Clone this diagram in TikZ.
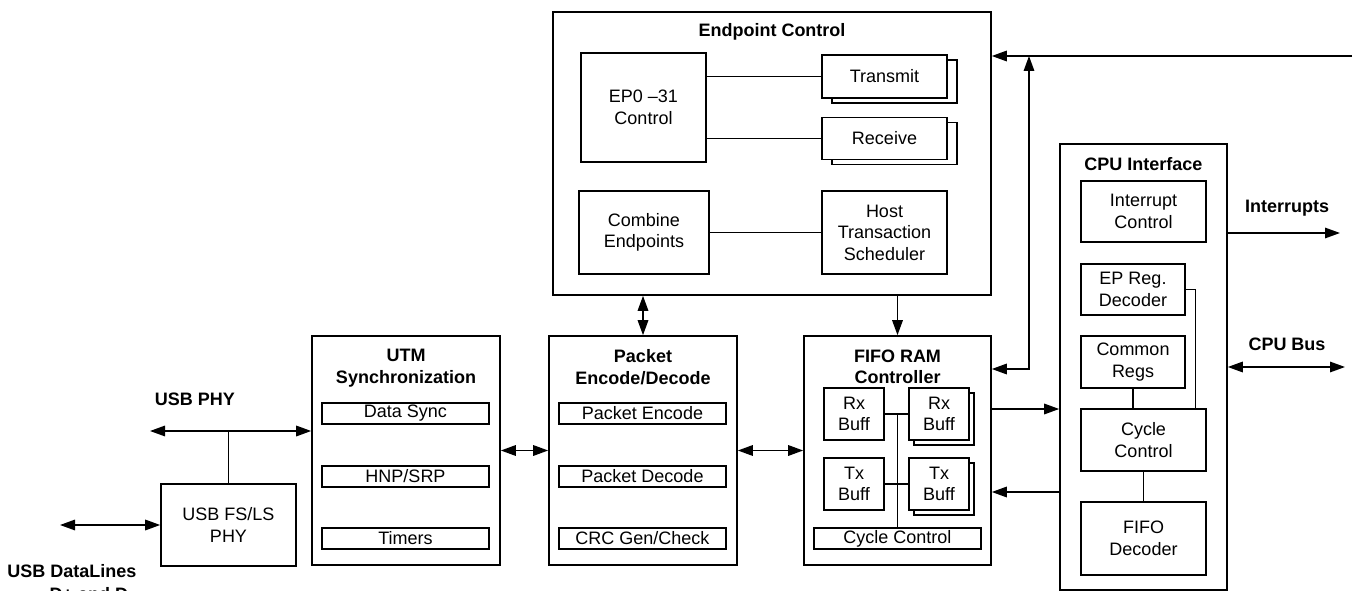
\documentclass[tikz,border=0pt]{standalone}
\usepackage{fontspec}
\setmainfont{Liberation Sans}
\usetikzlibrary{arrows.meta,shadows}

\begin{document}
\begin{tikzpicture}[
    x=1pt, y=-1pt, line width=1.6pt, >={Triangle[length=15pt,width=10.5pt]},
    font=\fontsize{18}{21.5}\selectfont,
    blk/.style args={#1/#2}{draw, fill=white, inner sep=0pt, align=center,
                  minimum width=#1pt, minimum height=#2pt},
    ttl/.style={font=\fontsize{18}{21.5}\selectfont\bfseries, align=center},
    stk/.style args={#1/#2}{copy shadow={shadow xshift=#1pt, shadow yshift=-#2pt,
                  draw=black, fill=white, line width=1.6pt}}]
  \useasboundingbox (0,0) rectangle (1353,591);
  %% Endpoint control block
  \node[blk=438/283] (epc) at (772,153.5) {};
  \node[ttl] (epct) at (772,32) {Endpoint Control};
  \node[blk=125/109] (ep)   at (643.5,107.5) {EP0 --31\\Control};
  \node[blk=125/43, stk=10/5] (tx) at (884.5,76.5) {Transmit};
  \node[blk=125/42, stk=10/5] (rx) at (884.5,138.5) {Receive};
  \node[blk=130/83] (comb) at (644,232.5) {Combine\\Endpoints};
  \node[blk=125/83] (host) at (884.5,232.5) {Host\\Transaction\\Scheduler};
  %% UTM
  \node[blk=188/229] (utm) at (406,450.5) {};
  \node[ttl] (utmt) at (406,368) {UTM\\Synchronization};
  \node[blk=167/21] (dsync) at (405.5,413.5) {Data Sync};
  \node[blk=167/21] (hnp)   at (405.5,476.5) {HNP/SRP};
  \node[blk=167/21] (tmr)   at (405.5,538.5) {Timers};
  %% Packet encode/decode
  \node[blk=188/229] (pkt) at (643,450.5) {};
  \node[ttl] (pktt) at (643,367) {Packet\\Encode/Decode};
  \node[blk=167/21] (penc) at (642.5,413.5) {Packet Encode};
  \node[blk=167/21] (pdec) at (642.5,476.5) {Packet Decode};
  \node[blk=167/21] (crc)  at (642.5,538.5) {CRC Gen/Check};
  %% FIFO RAM controller
  \node[blk=187/229] (fifo) at (897.5,450.5) {};
  \node[ttl] (fifot) at (897.5,367) {FIFO RAM\\Controller};
  \node[blk=60/52] (rxl) at (854,414) {Rx\\Buff};
  \node[blk=60/52, stk=5/5] (rxr) at (939,414) {Rx\\Buff};
  \node[blk=60/52] (txl) at (854,484) {Tx\\Buff};
  \node[blk=60/52, stk=5/5] (txr) at (939,484) {Tx\\Buff};
  \node[blk=167/21] (fcyc) at (897.5,538.5) {Cycle Control};
  %% CPU interface
  \node[blk=167/446] (cpu) at (1143.5,367) {};
  \node[ttl] (cput) at (1143.5,164) {CPU Interface};
  \node[blk=125/61] (irq)   at (1143.5,211.5) {Interrupt\\Control};
  \node[blk=104/51] (epreg) at (1133,289.5) {EP Reg.\\Decoder};
  \node[blk=104/52] (creg)  at (1133,362) {Common\\Regs};
  \node[blk=125/62] (cyc)   at (1143.5,440) {Cycle\\Control};
  \node[blk=125/73] (fdec)  at (1143.5,538.5) {FIFO\\Decoder};
  %% USB PHY
  \node[blk=135/82] (phy) at (228.5,525) {USB FS/LS\\PHY};
  %% Outside labels
  \node[ttl] (lphy) at (195,399) {USB PHY};
  \node[ttl] (ldl)  at (72,571) {USB DataLines};
  \node[ttl, anchor=base] (ldd) at (94,600) {D+ and D--};
  \node[ttl] (lirq) at (1287,208) {Interrupts};
  \node[ttl] (lbus) at (1287,344) {CPU Bus};
  %% Free ends
  \coordinate (inr)  at (1352,56);
  \coordinate (tap)  at (1029,56);
  \coordinate (tap2) at (1029,369);
  \coordinate (phyl) at (150,431);
  \coordinate (dl)   at (60,525);
  \coordinate (irqo) at (1340,233);
  \coordinate (buso) at (1345,367);
  %% Inside endpoint control
  \foreach \n in {tx,rx}
    \draw (\n.west -| ep.east) -- (\n.west);
  \draw (comb) -- (host);
  %% Inside FIFO
  \draw (rxl) -- (rxr);
  \draw (txl) -- (txr);
  \draw (rxl.east -| fcyc.north) -- (fcyc.north);
  %% Inside CPU interface
  \draw (creg.south) -- (creg.south |- cyc.north);
  \draw (epreg.east) -| ([xshift=52pt]cyc.north);
  \draw (cyc) -- (fdec);
  %% Data path
  \foreach \a/\b in {utm/pkt,pkt/fifo}
    \draw[<->] (\a) -- (\b);
  \draw[<->] (pkt.north) -- (pkt.north |- epc.south);
  \draw[->] (fifo.north |- epc.south) -- (fifo.north);
  \draw[->] (inr) -- (inr -| epc.east);
  \draw[<->] (fifo.east |- tap2) -- (tap2) -- (tap);
  \draw[->] ([yshift=41.5pt]fifo.east) -- ([yshift=41.5pt]fifo.east -| cpu.west);
  \draw[->] ([yshift=-41.5pt]fifo.east -| cpu.west) -- ([yshift=-41.5pt]fifo.east);
  \draw[->] (irqo -| cpu.east) -- (irqo);
  \draw[<->] (cpu.east |- buso) -- (buso);
  %% USB side
  \draw[<->] (phyl) -- (phyl -| utm.west);
  \draw (phy.north) -- (phy.north |- phyl);
  \draw[<->] (dl) -- (dl -| phy.west);
\end{tikzpicture}
\end{document}
